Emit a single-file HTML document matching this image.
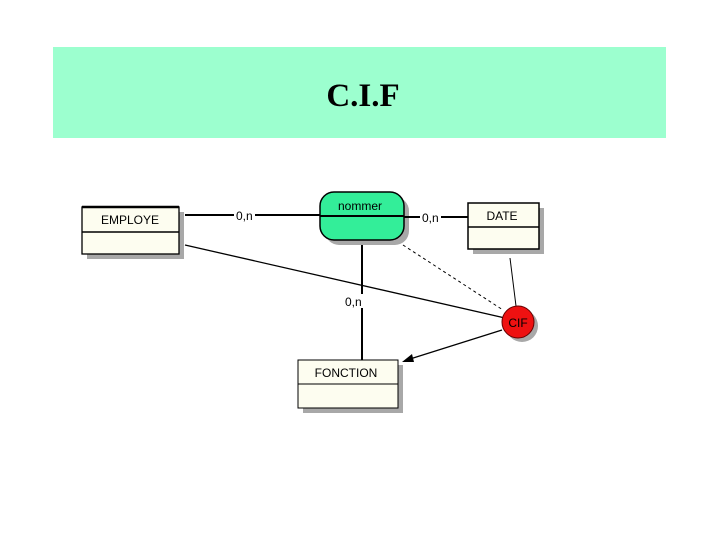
<!DOCTYPE html>
<html><head><meta charset="utf-8"><style>
html,body{margin:0;padding:0;background:#fff;width:720px;height:540px;overflow:hidden}
</style></head><body>
<svg width="720" height="540" xmlns="http://www.w3.org/2000/svg" font-family="Liberation Sans, sans-serif">
<rect x="53" y="47" width="613" height="91" fill="#9cffcf"/>
<text x="363" y="106" text-anchor="middle" font-family="Liberation Serif, serif" font-weight="bold" font-size="33">C.I.F</text>
<!-- shadows -->
<rect x="87" y="212" width="97" height="47" fill="#a8a8a8"/>
<rect x="473" y="208" width="71" height="46" fill="#a8a8a8"/>
<rect x="303" y="365" width="100" height="48" fill="#a8a8a8"/>
<rect x="325" y="197" width="84" height="48" rx="14" fill="#a8a8a8"/>
<circle cx="522" cy="326" r="16" fill="#a8a8a8"/>
<!-- lines -->
<line x1="185" y1="215" x2="320" y2="215" stroke="#000" stroke-width="2"/>
<line x1="404" y1="217" x2="468" y2="217" stroke="#000" stroke-width="2"/>
<line x1="362" y1="245" x2="362" y2="360" stroke="#000" stroke-width="2"/>
<line x1="185" y1="245" x2="505" y2="318" stroke="#000" stroke-width="1.3"/>
<line x1="403" y1="245" x2="503" y2="310" stroke="#000" stroke-width="1" stroke-dasharray="3,3"/>
<line x1="510" y1="258" x2="516" y2="306" stroke="#000" stroke-width="1"/>
<line x1="502" y1="330" x2="410" y2="359" stroke="#000" stroke-width="1.2"/>
<polygon points="402,362 412,354 414,362" fill="#000"/>
<!-- labels -->
<rect x="234" y="208" width="21" height="14" fill="#fff"/>
<text x="236" y="220" font-size="12">0,n</text>
<rect x="420" y="210" width="21" height="14" fill="#fff"/>
<text x="422" y="222" font-size="12">0,n</text>
<rect x="344" y="294" width="20" height="14" fill="#fff"/>
<text x="345" y="306" font-size="12">0,n</text>
<!-- entities -->
<rect x="82" y="207" width="97" height="47" fill="#fdfdf0" stroke="#000" stroke-width="1.3"/>
<line x1="82" y1="232" x2="179" y2="232" stroke="#000" stroke-width="1.5"/>
<line x1="82" y1="207" x2="179" y2="207" stroke="#000" stroke-width="2.5"/>
<text x="130" y="224" text-anchor="middle" font-size="12">EMPLOYE</text>
<rect x="468" y="203" width="71" height="46" fill="#fdfdf0" stroke="#000" stroke-width="1.5"/>
<line x1="468" y1="227" x2="539" y2="227" stroke="#000" stroke-width="1.5"/>
<text x="502" y="220" text-anchor="middle" font-size="12">DATE</text>
<rect x="298" y="360" width="100" height="48" fill="#fdfdf0" stroke="#000" stroke-width="1"/>
<line x1="298" y1="384" x2="398" y2="384" stroke="#000" stroke-width="1"/>
<text x="346" y="377" text-anchor="middle" font-size="12">FONCTION</text>
<rect x="320" y="192" width="84" height="48" rx="14" fill="#33ee99" stroke="#000" stroke-width="1.5"/>
<line x1="320" y1="216" x2="404" y2="216" stroke="#000" stroke-width="2"/>
<text x="360" y="210" text-anchor="middle" font-size="12">nommer</text>
<circle cx="518" cy="322" r="16" fill="#ee1111" stroke="#600" stroke-width="1"/>
<text x="518" y="327" text-anchor="middle" font-size="12">CIF</text>
</svg>
</body></html>
